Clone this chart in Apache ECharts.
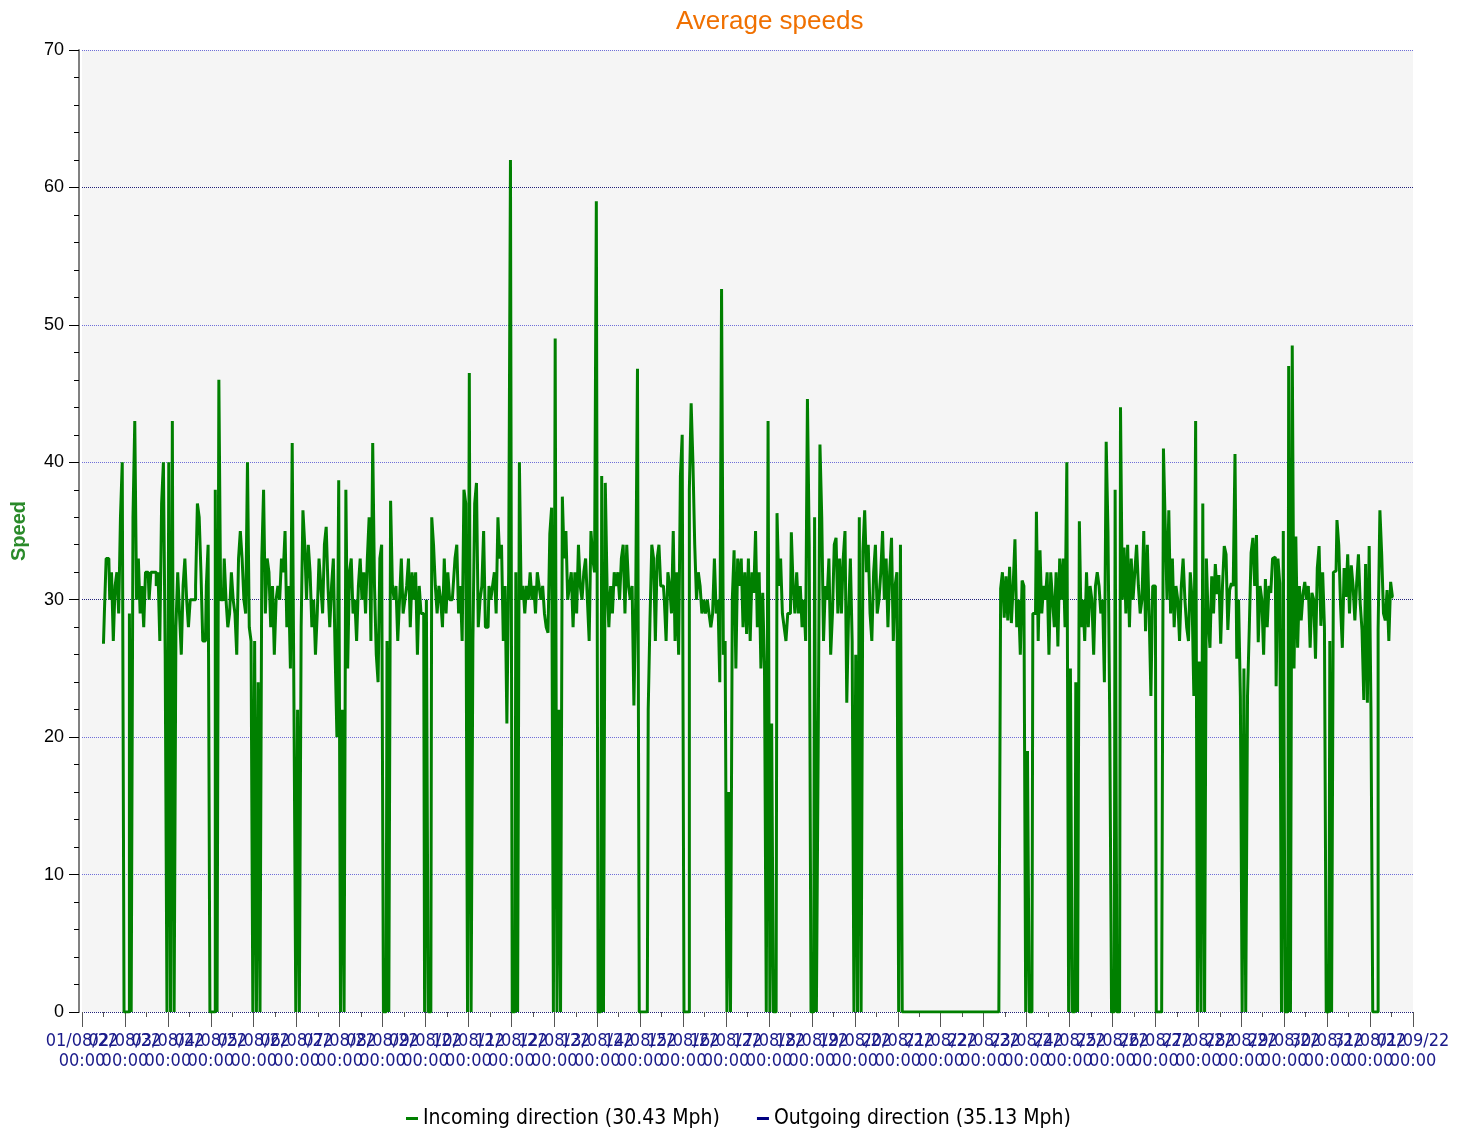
<!DOCTYPE html>
<html>
<head>
<meta charset="utf-8">
<script src="https://cdn.jsdelivr.net/npm/echarts@6/dist/echarts.min.js"></script>
<style>
html,body{margin:0;padding:0;background:#fff;}
#chart{width:1469px;height:1131px;}
</style>
</head>
<body>
<div id="chart"></div>
<script>
// ---- data (hourly samples, starting 01/08/22 12:00) ----
const chartTitle = 'Average speeds';
const yAxisName = 'Speed';
const seriesNames = ['Incoming direction (30.43 Mph)', 'Outgoing direction (35.13 Mph)'];
const axisStart = Date.UTC(2022, 7, 1, 0, 0);
const axisEnd = Date.UTC(2022, 8, 1, 0, 0);
const firstSample = Date.UTC(2022, 7, 1, 12, 0);
const sampleStepMs = 3600000;
const yTicks = [0, 10, 20, 30, 40, 50, 60, 70];

const incomingSpeeds = [
  26.8, 29, 33, 33, 30, 32, 27, 31, 32, 29, 36, 40,
  0, 0, 0, 29, 0, 36, 43, 30, 33, 29, 31, 28, 32, 32, 30, 32, 32, 32, 31, 32, 27, 37, 40, 26,
  0, 40, 0, 43, 0, 28, 32, 29, 26, 31, 33, 30, 28, 30, 30, 30, 31, 37, 36, 32, 27, 27, 31, 34,
  0, 0, 0, 38, 0, 46, 30, 30, 33, 30, 28, 29, 32, 30, 29, 26, 33, 35, 33, 30, 29, 40, 28, 27,
  0, 27, 0, 24, 0, 33, 38, 29, 33, 32, 28, 31, 26, 30, 31, 30, 33, 32, 35, 28, 31, 25, 41.4, 22,
  0, 22, 0, 28, 36.5, 34, 30, 34, 32, 28, 30, 26, 29, 33, 31, 29, 34, 35.3, 31, 28, 31, 33, 26, 20,
  38.7, 0, 22, 0, 38, 25, 32, 33, 29, 30, 27, 31, 33, 30, 32, 29, 33, 36, 27, 41.4, 31, 26, 24, 33,
  34, 0, 0, 27, 0, 37.2, 31, 30, 31, 27, 30, 33, 29, 30, 31, 33, 28, 32, 30, 32, 26, 31, 29, 29,
  0, 30, 0, 0, 36, 34, 31, 29, 31, 30, 28, 33, 29, 32, 30, 30, 31, 33, 34, 29, 31, 27, 38, 37,
  0, 46.5, 0, 27, 37, 38.5, 28, 30, 31, 35, 28, 28, 31, 30, 31, 32, 29, 36, 33, 34, 27, 31, 21, 32,
  62, 0, 0, 32, 0, 40, 30, 31, 29, 31, 30, 32, 30, 31, 29, 32, 31, 30, 31, 29, 28, 27.6, 34.8, 36.7,
  0, 49, 0, 22, 0, 37.5, 33, 35, 30, 31, 32, 28, 32, 29, 34, 31, 30, 32, 33, 30, 27, 35, 33, 32,
  59, 0, 0, 39, 0, 38.5, 31, 28, 31, 29, 32, 31, 32, 30, 33, 34, 29, 34, 31, 30, 31, 22.3, 30, 46.8,
  0, 0, 0, 0, 0, 22, 28.6, 34, 33, 27, 33, 34, 31, 31, 30, 27, 32, 31, 29, 35, 27, 32, 26, 39,
  42, 0, 0, 0, 38, 44.3, 40, 34, 30, 32, 31, 29, 30, 29, 30, 29, 28, 29, 33, 29, 30, 24, 52.6, 26,
  27, 0, 16, 0, 30, 33.6, 25, 33, 31, 33, 28, 32, 27.5, 33, 27, 32, 30.5, 35, 28, 32, 25, 30.5, 25, 0,
  43, 0, 21, 0, 0, 36.3, 31, 33, 29, 28, 27, 29, 29, 34.9, 31, 29, 32, 29, 31, 28, 30, 27, 44.6, 34,
  0, 0, 36, 0, 19, 41.3, 36, 27, 31, 30, 33, 26, 29, 34, 34.5, 29, 33, 29, 33, 35, 22.5, 29, 33, 27,
  0, 26, 0, 36, 0, 33.5, 36.5, 32, 34, 29, 27, 32, 34, 29, 30, 32, 35, 30, 33, 28, 32, 34.5, 27, 31,
  32, 0, 34, 0, 0, 0, 0, 0, 0, 0, 0, 0, 0, 0, 0, 0, 0, 0, 0, 0, 0, 0, 0, 0,
  0, 0, 0, 0, 0, 0, 0, 0, 0, 0, 0, 0, 0, 0, 0, 0, 0, 0, 0, 0, 0, 0, 0, 0,
  0, 0, 0, 0, 0, 0, 0, 0, 0, 0, 30.8, 32, 28.7, 31.7, 28.5, 32.4, 28.3, 31, 34.4, 28, 30, 26, 31.4, 31,
  0, 19, 0, 0, 29, 29, 36.4, 27, 33.6, 29, 31, 30, 32, 26, 32, 30, 28, 32, 26.6, 33, 30, 33, 28, 40,
  0, 25, 0, 0, 24, 0, 35.7, 28, 30, 27, 32, 28, 31, 30, 26, 31, 32, 31, 29, 30, 24, 41.5, 35, 21,
  0, 0, 38, 0, 0, 44, 30, 33.8, 29, 34, 28, 33, 30, 32, 34, 31, 29, 30, 35, 27.7, 34, 29, 23, 31,
  31, 0, 0, 0, 0, 41, 35.4, 30, 36.5, 29, 33, 28, 31, 30, 27, 31, 33, 30, 28, 27, 32, 30, 23, 43,
  0, 25.5, 0, 37, 0, 33, 28.6, 26.5, 31.7, 29, 32.6, 30.4, 31.8, 26.8, 31, 33.9, 33.3, 27.8, 30.7, 31.2, 31, 40.6, 25.7, 30,
  23, 0, 25, 0, 23, 28, 33.4, 34.5, 31, 34.7, 26.9, 31, 30, 26, 31.5, 28, 31, 30.5, 33, 33.1, 23.7, 33, 31.2, 0,
  35, 0, 0, 47, 0, 48.5, 25, 34.6, 26.5, 31, 28.5, 30.4, 31.3, 30, 31, 26.5, 30.5, 30, 25.7, 32.3, 33.9, 28.1, 32, 28,
  0, 0, 27, 0, 32, 32.1, 35.8, 34, 29.6, 26.5, 32.3, 30.2, 33.3, 29, 32.5, 31, 28.5, 31.2, 33.3, 29.7, 27.8, 22.7, 32.6, 22.5,
  33.9, 22, 0, 0, 0, 27.8, 36.5, 33.3, 29, 28.5, 30.7, 27, 31.3, 30.2
];
const outgoingSpeeds = [];

// ---- chart ----
const DAY_MS = 86400000;
const pad = n => (n < 10 ? '0' : '') + n;
function fmtTime(v) {
  const d = new Date(v);
  return pad(d.getUTCDate()) + '/' + pad(d.getUTCMonth() + 1) + '/' + String(d.getUTCFullYear()).slice(2) +
    '\n' + pad(d.getUTCHours()) + ':' + pad(d.getUTCMinutes());
}
// Labels overlap like in the original; split them over two identical axes so none get dropped.
const dayIndex = v => Math.round((v - axisStart) / DAY_MS);
const fmtEven = v => (dayIndex(v) % 2 === 0 ? fmtTime(v) : '');
const fmtOdd = v => (dayIndex(v) % 2 === 1 ? fmtTime(v) : '');

const incomingData = incomingSpeeds.map((v, i) => [firstSample + i * sampleStepMs, v]);
const outgoingData = outgoingSpeeds.map((v, i) => [firstSample + i * sampleStepMs, v]);

const labelStyle = {
  color: '#1a1a8a', fontSize: 18, lineHeight: 20,
  fontFamily: 'DejaVu Sans Condensed', margin: 15, showMinLabel: true, showMaxLabel: true, hideOverlap: false
};
const baseX = {
  type: 'value', min: axisStart, max: axisEnd, interval: DAY_MS, offset: 4,
  position: 'bottom', axisLine: { show: false }, splitLine: { show: false }
};

const chart = echarts.init(document.getElementById('chart'));
chart.setOption({
  animation: false,
  backgroundColor: '#ffffff',
  title: {
    text: chartTitle,
    left: 671,
    top: 4,
    textStyle: { color: '#f07000', fontSize: 26, fontWeight: 'normal', fontFamily: 'Liberation Sans' }
  },
  legend: {
    left: 401,
    top: 1103,
    icon: 'rect',
    itemWidth: 12,
    itemHeight: 3,
    itemGap: 37,
    textStyle: { color: '#000', fontSize: 21, fontFamily: 'DejaVu Sans Condensed' },
    data: seriesNames
  },
  grid: {
    left: 82, right: 56, top: 50, bottom: 119,
    show: true, backgroundColor: '#f5f5f5', borderWidth: 0
  },
  xAxis: [
    Object.assign({}, baseX, {
      axisTick: { show: true, length: 15, lineStyle: { color: '#555', width: 1 } },
      minorTick: { show: true, splitNumber: 2, length: 5, lineStyle: { color: '#555', width: 1 } },
      axisLabel: Object.assign({ formatter: fmtEven }, labelStyle)
    }),
    Object.assign({}, baseX, {
      axisTick: { show: false },
      minorTick: { show: false },
      axisLabel: Object.assign({ formatter: fmtOdd }, labelStyle)
    })
  ],
  yAxis: {
    type: 'value',
    min: yTicks[0],
    max: yTicks[yTicks.length - 1],
    interval: 10,
    offset: 3,
    name: yAxisName,
    nameLocation: 'middle',
    nameGap: 50,
    nameTextStyle: { color: '#2a8a2a', fontWeight: 'bold', fontSize: 20, fontFamily: 'Liberation Sans' },
    axisLine: { show: true, lineStyle: { color: '#808080', width: 2 } },
    axisTick: { show: true, length: 10, lineStyle: { color: '#000', width: 1 } },
    minorTick: { show: true, splitNumber: 5, length: 5, lineStyle: { color: '#000', width: 1 } },
    splitLine: { show: true, lineStyle: { type: 'dotted', width: 1, color: ['#22227a', '#6f6fd8', '#6f6fd8'] } },
    axisLabel: { color: '#000', fontSize: 18, fontFamily: 'Liberation Sans', margin: 15 }
  },
  series: [
    {
      name: seriesNames[0],
      type: 'line',
      xAxisIndex: 0,
      data: incomingData,
      step: 'middle',
      showSymbol: false,
      symbol: 'none',
      color: '#008000',
      lineStyle: { width: 3, color: '#008000' }
    },
    {
      name: seriesNames[1],
      type: 'line',
      xAxisIndex: 0,
      data: outgoingData,
      showSymbol: false,
      symbol: 'none',
      color: '#000080',
      lineStyle: { width: 3, color: '#000080' }
    }
  ]
});
</script>
</body>
</html>
